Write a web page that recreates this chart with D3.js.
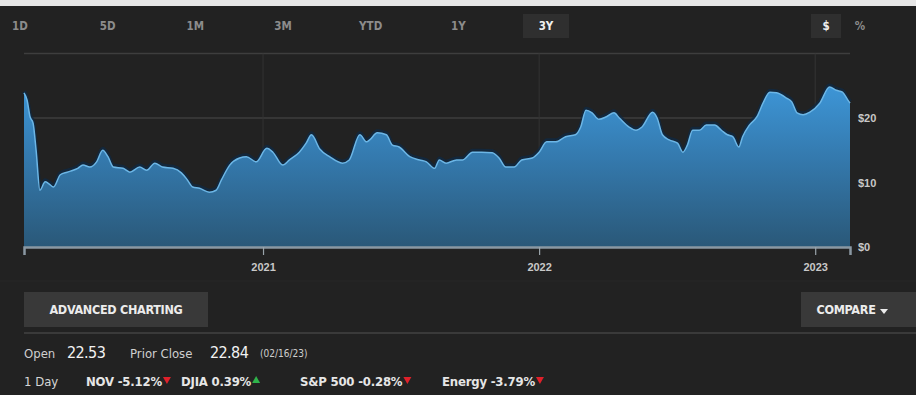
<!DOCTYPE html>
<html>
<head>
<meta charset="utf-8">
<script src="https://cdn.jsdelivr.net/npm/d3@7/dist/d3.min.js"></script>
<style>
  html, body { margin: 0; padding: 0; background: #222222; }
  svg { display: block; font-family: "Liberation Sans Narrow", "DejaVu Sans Condensed", Roboto, "Liberation Sans", sans-serif; }
</style>
</head>
<body>
<svg id="chart" width="916" height="395"></svg>
<script>
// NOV daily close, 3-year view
const dates = [
  "2020-02-20","2020-02-24","2020-02-28","2020-03-03","2020-03-07","2020-03-12","2020-03-19","2020-03-24","2020-03-30",
  "2020-04-08","2020-04-17","2020-04-25","2020-05-01","2020-05-08","2020-05-17","2020-05-26","2020-06-03","2020-06-10",
  "2020-06-17","2020-06-30","2020-07-09","2020-07-22","2020-07-31","2020-08-11","2020-08-21","2020-09-04","2020-09-15",
  "2020-09-23","2020-09-30","2020-10-09","2020-10-22","2020-10-31","2020-11-07","2020-11-18","2020-12-01","2020-12-10",
  "2020-12-23","2021-01-06","2021-01-14","2021-01-27","2021-02-05","2021-02-18","2021-02-27","2021-03-06","2021-03-17",
  "2021-03-30","2021-04-16","2021-04-25","2021-05-09","2021-05-18","2021-05-22","2021-06-01","2021-06-13","2021-06-21",
  "2021-06-30","2021-07-14","2021-07-27","2021-08-05","2021-08-16","2021-08-22","2021-08-31","2021-09-14","2021-09-22",
  "2021-10-05","2021-10-17","2021-10-31","2021-11-09","2021-11-18","2021-11-29","2021-12-09","2021-12-23","2022-01-01",
  "2022-01-11","2022-01-23","2022-02-05","2022-02-18","2022-02-25","2022-03-04","2022-03-12","2022-03-21","2022-03-31",
  "2022-04-10","2022-04-17","2022-04-30","2022-05-09","2022-05-17","2022-05-31","2022-06-06","2022-06-13","2022-06-22",
  "2022-07-03","2022-07-10","2022-07-16","2022-07-23","2022-08-01","2022-08-10","2022-08-21","2022-08-30","2022-09-07",
  "2022-09-14","2022-09-22","2022-09-27","2022-10-06","2022-10-16","2022-10-24","2022-11-02","2022-11-11","2022-11-24",
  "2022-12-01","2022-12-08","2022-12-16","2022-12-25","2023-01-07","2023-01-20","2023-01-29","2023-02-06","2023-02-13",
  "2023-02-16"
];
const prices = [
  23.9, 22.8, 20.2, 19.2, 15.0, 8.8, 10.1, 9.8, 9.3,
  11.2, 11.6, 11.9, 12.2, 12.7, 12.4, 13.2, 15.0, 14.0,
  12.4, 12.2, 11.6, 12.4, 11.9, 13.0, 12.4, 12.2, 11.5,
  10.4, 9.3, 9.1, 8.5, 8.8, 10.4, 12.7, 13.8, 14.0,
  13.2, 15.3, 14.7, 12.7, 13.5, 14.7, 16.1, 17.4, 15.2,
  14.0, 13.0, 13.5, 17.4, 16.3, 16.6, 17.7, 17.4, 15.8,
  15.5, 14.0, 13.5, 13.2, 12.2, 13.5, 13.0, 13.5, 13.5,
  14.7, 14.7, 14.6, 13.8, 12.4, 12.4, 13.5, 13.8, 14.7,
  16.3, 16.3, 17.1, 17.4, 18.6, 21.2, 20.8, 19.8, 20.2,
  20.8, 20.0, 18.6, 18.1, 18.6, 20.9, 20.0, 17.4, 16.6,
  16.1, 14.7, 15.8, 18.1, 18.1, 18.9, 18.9, 18.1, 17.4,
  17.1, 15.5, 17.1, 18.9, 20.2, 22.3, 24.0, 23.9, 23.1,
  22.5, 20.8, 20.5, 20.9, 22.3, 24.8, 24.3, 24.0, 22.8,
  22.3
];
const yTicks = [0, 10, 20];
const yGrid = [20, 30];
const yearTicks = ["2021-01-01", "2022-01-01", "2023-01-01"];
const rangeTabs = ["1D", "5D", "1M", "3M", "YTD", "1Y", "3Y"];
const activeTab = "3Y";
const unitTabs = ["$", "%"];
const quoteRow = [
  { label: "Open", value: "22.53" },
  { label: "Prior Close", value: "22.84", note: "(02/16/23)" }
];
const dayLabel = "1 Day";
const dayChanges = [
  { name: "NOV", pct: "-5.12" },
  { name: "DJIA", pct: "0.39" },
  { name: "S&P 500", pct: "-0.28" },
  { name: "Energy", pct: "-3.79" }
];

const parse = d3.timeParse("%Y-%m-%d");
const series = dates.map((d, i) => ({ date: parse(d), value: prices[i] }));

const svg = d3.select("#chart");
const W = 916;

// frame: light strip on top, dark panel
svg.append("rect").attr("x", 0).attr("y", 0).attr("width", W).attr("height", 395).attr("fill", "#222222");
svg.append("rect").attr("x", 0).attr("y", 0).attr("width", W).attr("height", 6).attr("fill", "#e6e6e6");

// range tabs
const tabX = d3.scalePoint().domain(rangeTabs).range([20, 546]);
const tabs = svg.append("g").attr("class", "tabs");
tabs.append("rect").attr("x", tabX(activeTab) - 23).attr("y", 14).attr("width", 46).attr("height", 24)
  .attr("fill", "#2f2f2f");
tabs.selectAll("text").data(rangeTabs).join("text")
  .attr("x", d => tabX(d)).attr("y", 30)
  .attr("text-anchor", "middle")
  .attr("font-size", 11.5).attr("font-weight", "bold")
  .attr("fill", d => d === activeTab ? "#f0f0f0" : "#8c8c8c")
  .text(d => d);

const unitX = d3.scalePoint().domain(unitTabs).range([826, 860]);
tabs.append("rect").attr("x", 811).attr("y", 14).attr("width", 30).attr("height", 24).attr("fill", "#2f2f2f");
tabs.selectAll("text.unit").data(unitTabs).join("text")
  .attr("class", "unit")
  .attr("x", d => unitX(d)).attr("y", 30)
  .attr("text-anchor", "middle")
  .attr("font-size", 11.5).attr("font-weight", "bold")
  .attr("fill", (d, i) => i === 0 ? "#f0f0f0" : "#8c8c8c")
  .text(d => d);

// scales
const x = d3.scaleTime()
  .domain([parse("2020-02-20"), parse("2023-02-16")])
  .range([24, 850]);
const y = d3.scaleLinear().domain([0, 30]).range([247, 53.5]);

// grid
const grid = svg.append("g");
grid.selectAll("line.h").data(yGrid).join("line")
  .attr("x1", 24).attr("x2", 850)
  .attr("y1", d => y(d)).attr("y2", d => y(d))
  .attr("stroke", "#3e3e3e").attr("stroke-width", 1.5);
grid.selectAll("line.v").data(yearTicks).join("line")
  .attr("x1", d => x(parse(d))).attr("x2", d => x(parse(d)))
  .attr("y1", y(30)).attr("y2", y(0))
  .attr("stroke", "#333333").attr("stroke-width", 1);

// area gradient
const defs = svg.append("defs");
const grad = defs.append("linearGradient").attr("id", "fillGrad")
  .attr("x1", 0).attr("y1", 0).attr("x2", 0).attr("y2", 1);
grad.append("stop").attr("offset", "0%").attr("stop-color", "#3d95d6");
grad.append("stop").attr("offset", "45%").attr("stop-color", "#3479ad");
grad.append("stop").attr("offset", "100%").attr("stop-color", "#2a5878");

const area = d3.area()
  .x(d => x(d.date)).y0(y(0)).y1(d => y(d.value))
  .curve(d3.curveMonotoneX);
const line = d3.line()
  .x(d => x(d.date)).y(d => y(d.value))
  .curve(d3.curveMonotoneX);

const plot = svg.append("g");
// dark halo above the price line
plot.append("path").datum(series).attr("d", line)
  .attr("fill", "none").attr("stroke", "#0f2a44").attr("stroke-width", 4)
  .attr("stroke-opacity", 0.75).attr("transform", "translate(0,-1.5)");
plot.append("path").datum(series).attr("d", area).attr("fill", "url(#fillGrad)");
plot.append("path").datum(series).attr("d", line)
  .attr("fill", "none").attr("stroke", "#6cb6e6").attr("stroke-width", 1.5);

// bottom axis
const xAxis = d3.axisBottom(x)
  .tickValues(yearTicks.map(parse))
  .tickFormat(d3.timeFormat("%Y"))
  .tickSize(8).tickPadding(8);
const gx = svg.append("g").attr("transform", `translate(0,${y(0)})`).call(xAxis);
gx.select(".domain").attr("stroke", "#8a98a3").attr("stroke-width", 2.5);
gx.selectAll(".tick line").attr("stroke", "#9aa4ab").attr("stroke-width", 1.2);
gx.selectAll(".tick text").attr("fill", "#c8c8c8").attr("font-size", 11).attr("font-weight", "bold")
  .attr("font-family", "inherit");

// right axis
const yAxis = d3.axisRight(y).tickValues(yTicks).tickFormat(d => "$" + d).tickSize(0).tickPadding(0);
const gy = svg.append("g").attr("transform", "translate(858,0)").call(yAxis);
gy.select(".domain").remove();
gy.selectAll(".tick text").attr("fill", "#c8c8c8").attr("font-size", 11).attr("font-weight", "bold")
  .attr("font-family", "inherit");

// buttons
const btns = svg.append("g");
btns.append("line").attr("x1", 0).attr("x2", W).attr("y1", 281).attr("y2", 281)
  .attr("stroke", "#262626").attr("stroke-width", 1);
btns.append("rect").attr("x", 24).attr("y", 292).attr("width", 184).attr("height", 35).attr("fill", "#393939");
btns.append("text").attr("x", 116).attr("y", 314).attr("text-anchor", "middle")
  .attr("font-size", 12.5).attr("font-weight", "bold").attr("fill", "#ececec")
  .attr("letter-spacing", -0.3).text("ADVANCED CHARTING");
btns.append("rect").attr("x", 801).attr("y", 292).attr("width", 115).attr("height", 35).attr("fill", "#393939");
btns.append("text").attr("x", 846).attr("y", 314).attr("text-anchor", "middle")
  .attr("font-size", 12.5).attr("font-weight", "bold").attr("fill", "#ececec")
  .attr("letter-spacing", -0.3).text("COMPARE");
btns.append("path").attr("d", "M880,309 L888,309 L884,314 Z").attr("fill", "#ececec");
btns.append("line").attr("x1", 24).attr("x2", W).attr("y1", 333).attr("y2", 333)
  .attr("stroke", "#3a3a3a").attr("stroke-width", 2);

// quote row
const qr = svg.append("g");
const qLabel = (xp, t) => qr.append("text").attr("x", xp).attr("y", 358)
  .attr("font-size", 13).attr("fill", "#cfcfcf").text(t);
const qValue = (xp, t) => qr.append("text").attr("x", xp).attr("y", 358)
  .attr("font-size", 16).attr("fill", "#f2f2f2").attr("letter-spacing", -0.6).text(t);
qLabel(24, quoteRow[0].label);
qValue(67, quoteRow[0].value);
qLabel(130, quoteRow[1].label);
qValue(210, quoteRow[1].value);
qr.append("text").attr("x", 260).attr("y", 357).attr("font-size", 10).attr("fill", "#cfcfcf")
  .text(quoteRow[1].note);

// one-day change row
const dayRow = svg.append("g");
dayRow.append("text").attr("x", 24).attr("y", 386).attr("font-size", 13).attr("fill", "#d6d6d6")
  .text(dayLabel);
const chgX = [86, 181, 300, 442];
dayChanges.forEach((c, i) => {
  const t = dayRow.append("text").attr("x", chgX[i]).attr("y", 386)
    .attr("font-size", 13).attr("font-weight", "bold").attr("fill", "#e6e6e6")
    .attr("letter-spacing", -0.2)
    .text(`${c.name} ${c.pct}%`);
  const w = t.node().getComputedTextLength();
  const tx = chgX[i] + w + 5;
  const up = !c.pct.startsWith("-");
  dayRow.append("path")
    .attr("d", up
      ? `M${tx - 4},383 L${tx + 4},383 L${tx},376 Z`
      : `M${tx - 4},377 L${tx + 4},377 L${tx},384 Z`)
    .attr("fill", up ? "#2fb34a" : "#e0202a");
});
</script>
</body>
</html>
